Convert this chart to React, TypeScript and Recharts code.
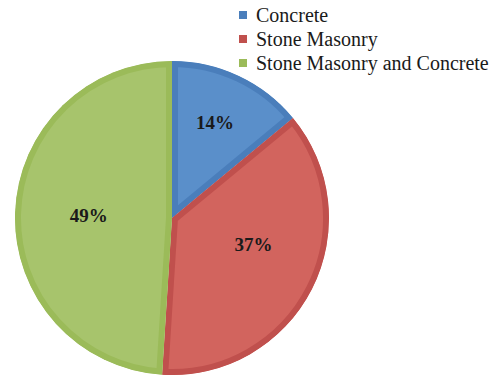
import React from 'react';
import { PieChart, Pie, Sector, Legend } from 'recharts';

const categories = ['Concrete', 'Stone Masonry', 'Stone Masonry and Concrete'];
const values = [14, 37, 49];

const fillColors = ['#5A8FCA', '#D2645E', '#A7C46C'];
const borderColors = ['#4A7EBB', '#C0504D', '#9BBB59'];
const labelRadiusFactor = [0.67, 0.545, 0.53];
const labelAngleShift = [1, 9, 0];

const data = categories.map((name, i) => ({ name, value: values[i], fill: fillColors[i] }));

const RAD = Math.PI / 180;
const SERIF = "'Times New Roman', 'Liberation Serif', serif";

const BevelSector = (props: any) => {
  const { cx, cy, innerRadius, outerRadius, startAngle, endAngle, index } = props;
  const id = `clip-slice-${index}`;
  return (
    <g>
      <defs>
        <clipPath id={id}>
          <Sector cx={cx} cy={cy} innerRadius={innerRadius} outerRadius={outerRadius} startAngle={startAngle} endAngle={endAngle} />
        </clipPath>
      </defs>
      <Sector
        cx={cx}
        cy={cy}
        innerRadius={innerRadius}
        outerRadius={outerRadius}
        startAngle={startAngle}
        endAngle={endAngle}
        fill={fillColors[index]}
        stroke={borderColors[index]}
        strokeWidth={12}
        clipPath={`url(#${id})`}
      />
    </g>
  );
};

const renderLabel = (props: any) => {
  const { cx, cy, midAngle, outerRadius, percent, index } = props;
  const r = outerRadius * labelRadiusFactor[index];
  const a = midAngle + labelAngleShift[index];
  const x = cx + r * Math.cos(-a * RAD);
  const y = cy + r * Math.sin(-a * RAD);
  return (
    <text
      x={x}
      y={y}
      textAnchor="middle"
      dominantBaseline="central"
      fontFamily={SERIF}
      fontWeight="bold"
      fontSize={19}
      fill="#1a1a1a"
    >
      {`${Math.round(percent * 100)}%`}
    </text>
  );
};

const renderLegend = () => (
  <div style={{ fontFamily: SERIF, fontSize: 20, color: '#1a1a1a' }}>
    {categories.map((name, i) => (
      <div key={name} style={{ display: 'flex', alignItems: 'center', height: 24, whiteSpace: 'nowrap' }}>
        <span style={{ display: 'inline-block', width: 8, height: 8, background: borderColors[i], marginRight: 9 }} />
        <span>{name}</span>
      </div>
    ))}
  </div>
);

export default function App() {
  return (
    <div style={{ position: 'absolute', left: 0, top: 0, width: 503, height: 375, background: '#fff' }}>
      <PieChart width={503} height={375} margin={{ top: 0, right: 0, bottom: 0, left: 0 }}>
        <Pie
          data={data}
          dataKey="value"
          nameKey="name"
          cx={172}
          cy={218}
          outerRadius={157}
          startAngle={90}
          endAngle={-270}
          shape={BevelSector}
          label={renderLabel}
          labelLine={false}
          isAnimationActive={false}
        />
        <Legend
          content={renderLegend}
          wrapperStyle={{ position: 'absolute', left: 239, top: 3, width: 264 }}
        />
      </PieChart>
    </div>
  );
}
